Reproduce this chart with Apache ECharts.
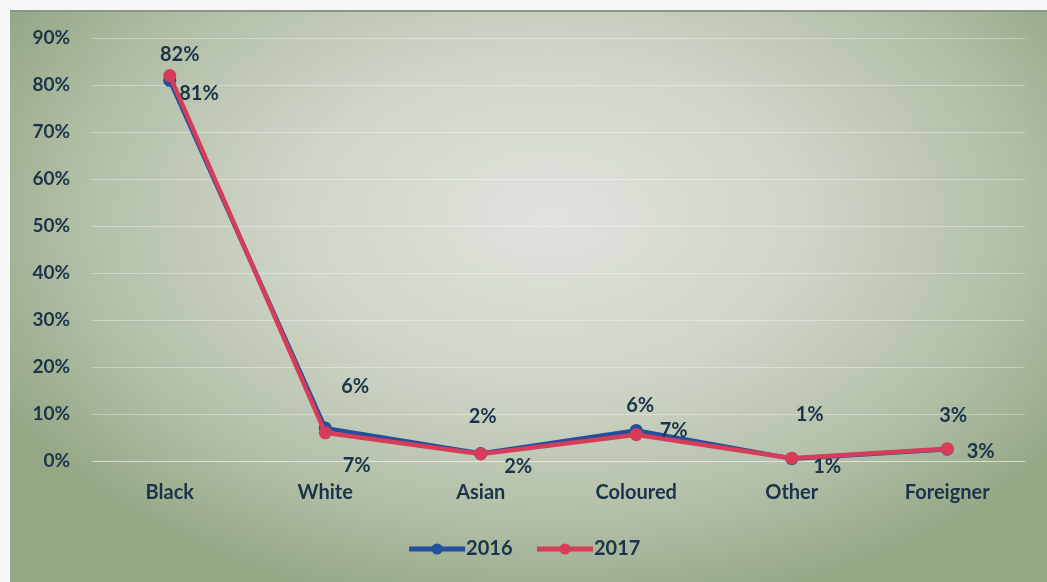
<!DOCTYPE html>
<html>
<head>
<meta charset="utf-8">
<script src="https://cdn.jsdelivr.net/npm/echarts@6/dist/echarts.min.js"></script>
<style>
  html, body { margin: 0; padding: 0; background: #f7f8f6; }
  #bg { position: absolute; left: 10px; top: 10px; width: 1037px; height: 572px;
        background: radial-gradient(ellipse 60% 70% at 52% 36%, #e0e3dc 0%, #d0d6ca 40%, #b2bfa7 75%, #94a886 100%);
        border-top: 2px solid #8c948c; }
  #chart { position: absolute; left: 0; top: 0; width: 1047px; height: 582px; }
</style>
</head>
<body>
<div id="bg"></div>
<div id="chart"></div>
<script>
const categories = ['Black', 'White', 'Asian', 'Coloured', 'Other', 'Foreigner'];
const seriesNames = ['2016', '2017'];
const values2016 = [81, 7, 1.6, 6.5, 0.5, 2.5];
const values2017 = [82, 6, 1.5, 5.6, 0.6, 2.6];
const yTicks = [0, 10, 20, 30, 40, 50, 60, 70, 80, 90];

const textColor = '#1b3449';
const font = 'Lato, "Open Sans", sans-serif';

// label offsets (layout only)
const off2016 = [[-2, 13], [6, 37], [12, 13], [12, 0], [10, 8], [8, 2]];
const off2017 = [[10, 0], [30, -25], [2, -16], [4, -8], [18, -22], [6, -12]];

function build(vals, offs) {
  return vals.map((v, i) => ({ value: v, label: { offset: offs[i] } }));
}

const chart = echarts.init(document.getElementById('chart'));
chart.setOption({
  backgroundColor: 'transparent',
  animation: false,
  textStyle: { fontFamily: font },
  grid: { left: 92, right: 22, top: 38, bottom: 121, containLabel: false },
  legend: {
    data: seriesNames,
    bottom: 18,
    left: 'center',
    itemWidth: 56,
    itemHeight: 14,
    itemGap: 22,
    lineStyle: { width: 5 },
    textStyle: { color: textColor, fontSize: 20, fontWeight: 'bold', fontFamily: font, padding: [0, 0, 0, -4] }
  },
  xAxis: {
    type: 'category',
    data: categories,
    boundaryGap: true,
    axisLine: { show: true, lineStyle: { color: 'rgba(255,255,255,0.35)' } },
    axisTick: { show: false },
    axisLabel: { color: textColor, fontSize: 20, fontWeight: 'bold', margin: 22, fontFamily: font }
  },
  yAxis: {
    type: 'value',
    min: yTicks[0],
    max: yTicks[yTicks.length - 1],
    interval: 10,
    axisLine: { show: false },
    axisTick: { show: false },
    splitLine: { lineStyle: { color: 'rgba(255,255,255,0.35)', width: 1 } },
    axisLabel: { color: textColor, fontSize: 19, fontWeight: 'bold', margin: 22, formatter: v => v + '%', fontFamily: font }
  },
  series: [
    {
      name: seriesNames[0],
      type: 'line',
      data: build(values2016, off2016),
      symbol: 'circle',
      symbolSize: 13,
      lineStyle: { color: '#234f9c', width: 4.5 },
      itemStyle: { color: '#234f9c' },
      label: { show: true, position: 'right', color: textColor, fontSize: 20, fontWeight: 'bold', fontFamily: font,
               formatter: p => Math.round(p.value) + '%' },
      z: 2
    },
    {
      name: seriesNames[1],
      type: 'line',
      data: build(values2017, off2017),
      symbol: 'circle',
      symbolSize: 13,
      lineStyle: { color: '#d63d58', width: 4.5 },
      itemStyle: { color: '#d63d58' },
      label: { show: true, position: 'top', color: textColor, fontSize: 20, fontWeight: 'bold', fontFamily: font,
               formatter: p => Math.round(p.value) + '%' },
      z: 3
    }
  ]
});
</script>
</body>
</html>
